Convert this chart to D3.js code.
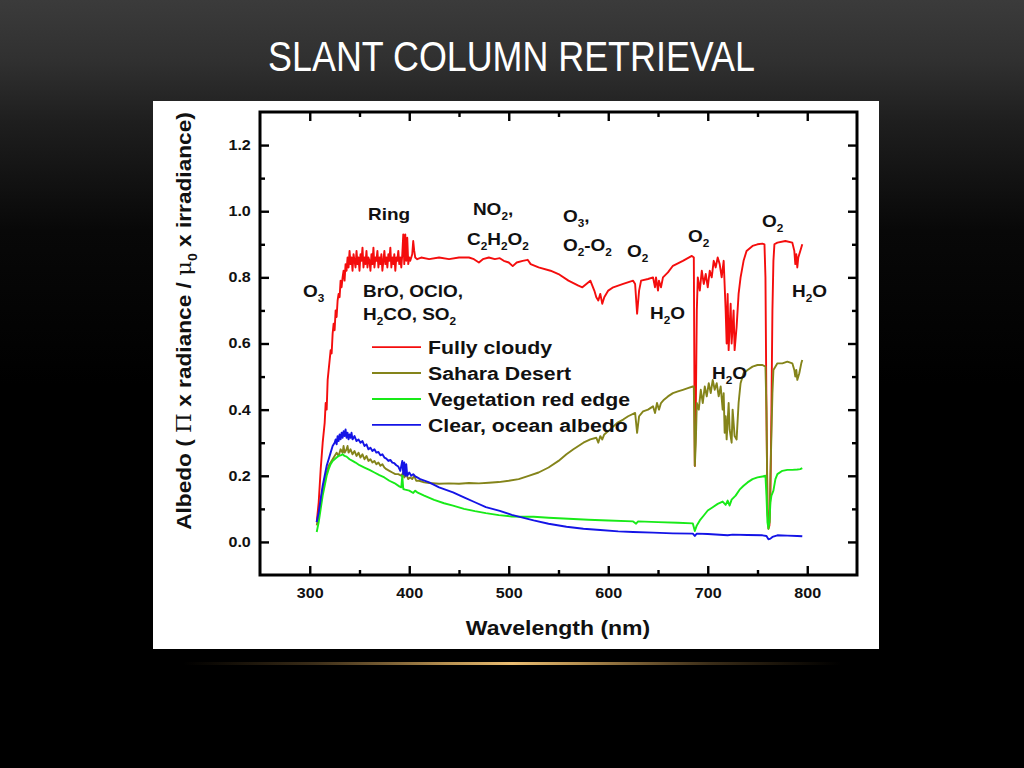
<!DOCTYPE html>
<html><head><meta charset="utf-8">
<script src="https://cdn.jsdelivr.net/npm/d3@7"></script>
<style>html,body{margin:0;padding:0;background:#000;overflow:hidden}</style>
</head><body>
<svg id="c" width="1024" height="768"></svg>
<script>
// ---------------- data ----------------
const slideTitle = "SLANT COLUMN RETRIEVAL";
const xTitle = "Wavelength (nm)";
const seriesNames = ["Fully cloudy", "Sahara Desert", "Vegetation red edge", "Clear, ocean albedo"];
const seriesColors = ["#f40d0d", "#84841a", "#18ea18", "#1414e6"];
const xMajorTicks = [300, 400, 500, 600, 700, 800];
const xMinorTicks = [350, 450, 550, 650, 750];
const yMajorTicks = [0, 0.2, 0.4, 0.6, 0.8, 1.0, 1.2];
const yMinorTicks = [0.1, 0.3, 0.5, 0.7, 0.9, 1.1];

// [wavelength nm, albedo]
const fullyCloudy = [[307,0.06],[309,0.12],[311,0.22],[313,0.30],[315,0.36],[316,0.42],[317,0.40],[318,0.49],[319,0.52],[320,0.55],[321,0.58],[322,0.57],[323,0.63],[324,0.66],[325,0.64],[326,0.70],[327,0.68],[328,0.73],[329,0.75],[330,0.74],[331,0.79],[332,0.77],[333,0.80],[334,0.82],[335,0.79],[336,0.84],[337,0.82],[338,0.86],[339,0.83],[340,0.88],[341,0.84],[342,0.86],[343,0.82],[344,0.87],[345,0.85],[346,0.83],[347,0.88],[348,0.84],[349,0.86],[350,0.82],[351,0.87],[352,0.85],[353,0.89],[354,0.83],[355,0.86],[356,0.84],[357,0.88],[358,0.83],[359,0.86],[360,0.85],[361,0.82],[362,0.87],[363,0.84],[364,0.89],[365,0.83],[366,0.86],[367,0.85],[368,0.88],[369,0.83],[370,0.86],[371,0.84],[372,0.87],[373,0.82],[374,0.85],[375,0.88],[376,0.84],[377,0.86],[378,0.83],[379,0.87],[380,0.85],[381,0.89],[382,0.83],[383,0.86],[384,0.84],[385,0.87],[386,0.82],[387,0.86],[388,0.85],[389,0.88],[390,0.84],[391,0.86],[392,0.83],[393,0.87],[394,0.93],[395,0.84],[396,0.93],[397,0.85],[398,0.92],[399,0.84],[400,0.86],[401,0.85],[402,0.86],[403,0.87],[404,0.91],[405,0.88],[406,0.86],[408,0.855],[412,0.86],[420,0.855],[430,0.86],[440,0.855],[450,0.86],[460,0.86],[465,0.855],[470,0.845],[474,0.855],[480,0.86],[486,0.855],[491,0.858],[495,0.85],[500,0.845],[504,0.834],[508,0.845],[514,0.85],[519,0.853],[522,0.84],[530,0.83],[542,0.82],[550,0.81],[560,0.79],[570,0.775],[574,0.77],[578,0.78],[582,0.79],[586,0.76],[588,0.74],[590,0.73],[592,0.75],[594,0.72],[596,0.74],[600,0.76],[605,0.77],[615,0.78],[625,0.79],[627,0.78],[629,0.69],[631,0.76],[633,0.79],[640,0.795],[645,0.80],[647,0.77],[648,0.80],[650,0.76],[651,0.79],[653,0.77],[655,0.80],[660,0.815],[665,0.835],[675,0.85],[684,0.865],[686,0.86],[687,0.23],[688,0.40],[689,0.70],[690,0.80],[692,0.76],[694,0.82],[696,0.78],[698,0.81],[700,0.77],[702,0.82],[704,0.80],[706,0.85],[708,0.83],[710,0.86],[712,0.84],[714,0.80],[716,0.85],[718,0.70],[719,0.60],[720,0.75],[721,0.58],[723,0.72],[724,0.60],[726,0.70],[727,0.58],[729,0.65],[731,0.75],[733,0.80],[736,0.85],[739,0.88],[745,0.895],[750,0.90],[755,0.902],[757,0.90],[758,0.80],[759,0.40],[760,0.10],[761,0.04],[762,0.05],[763,0.15],[764,0.40],[765,0.70],[766,0.85],[767,0.90],[770,0.905],[778,0.91],[785,0.905],[787,0.88],[788,0.84],[789,0.87],[790,0.83],[791,0.86],[793,0.88],[795,0.90]];

const saharaDesert = [[307,0.05],[309,0.08],[311,0.12],[313,0.16],[315,0.19],[317,0.21],[319,0.23],[321,0.24],[323,0.25],[325,0.26],[327,0.27],[329,0.26],[331,0.28],[333,0.27],[334,0.29],[335,0.27],[337,0.28],[338,0.29],[339,0.27],[341,0.28],[343,0.265],[345,0.275],[347,0.26],[349,0.27],[351,0.255],[353,0.265],[355,0.25],[357,0.26],[359,0.245],[361,0.25],[363,0.24],[365,0.245],[367,0.235],[369,0.24],[371,0.23],[373,0.235],[375,0.225],[377,0.22],[380,0.215],[383,0.21],[386,0.205],[389,0.205],[392,0.20],[394,0.21],[395,0.195],[397,0.205],[399,0.19],[401,0.195],[403,0.19],[405,0.20],[407,0.185],[410,0.185],[415,0.18],[420,0.178],[430,0.176],[440,0.177],[450,0.176],[460,0.178],[470,0.177],[480,0.179],[490,0.181],[500,0.185],[510,0.19],[520,0.20],[530,0.21],[540,0.225],[550,0.245],[558,0.265],[565,0.28],[575,0.30],[582,0.31],[588,0.315],[590,0.30],[592,0.32],[594,0.31],[596,0.325],[600,0.335],[609,0.36],[615,0.37],[620,0.38],[627,0.39],[629,0.33],[631,0.38],[635,0.395],[640,0.40],[645,0.41],[647,0.39],[649,0.42],[651,0.40],[653,0.42],[656,0.43],[660,0.44],[665,0.45],[670,0.455],[675,0.46],[680,0.465],[685,0.47],[686,0.47],[687,0.23],[688,0.30],[689,0.42],[691,0.40],[693,0.46],[695,0.42],[697,0.47],[699,0.44],[701,0.48],[703,0.45],[705,0.49],[707,0.46],[709,0.48],[711,0.44],[713,0.47],[715,0.40],[716,0.45],[717,0.33],[718,0.38],[719,0.31],[721,0.42],[722,0.34],[724,0.30],[725,0.40],[727,0.32],[729,0.31],[731,0.42],[733,0.48],[736,0.51],[740,0.52],[745,0.53],[750,0.535],[755,0.535],[758,0.53],[759,0.40],[760,0.10],[761,0.05],[762,0.06],[763,0.20],[765,0.45],[766,0.52],[770,0.54],[775,0.54],[780,0.545],[785,0.54],[787,0.52],[788,0.50],[789,0.52],[790,0.49],[792,0.51],[794,0.54],[795,0.55]];

const vegetationRedEdge = [[307,0.03],[309,0.06],[311,0.10],[313,0.14],[315,0.17],[317,0.20],[319,0.22],[321,0.235],[323,0.245],[325,0.25],[327,0.255],[329,0.26],[331,0.262],[333,0.265],[335,0.26],[337,0.258],[340,0.25],[343,0.245],[346,0.24],[350,0.232],[355,0.225],[360,0.218],[365,0.21],[370,0.202],[375,0.195],[380,0.185],[385,0.178],[390,0.168],[392,0.165],[393,0.20],[394,0.16],[396,0.158],[400,0.155],[404,0.148],[406,0.155],[408,0.15],[415,0.14],[425,0.127],[435,0.117],[444,0.11],[455,0.10],[466,0.093],[477,0.087],[490,0.081],[503,0.077],[515,0.076],[525,0.076],[540,0.073],[560,0.07],[580,0.067],[600,0.065],[625,0.062],[628,0.055],[630,0.062],[650,0.06],[670,0.058],[685,0.056],[687,0.033],[689,0.05],[692,0.065],[696,0.08],[700,0.095],[705,0.105],[710,0.115],[715,0.122],[718,0.112],[720,0.125],[722,0.11],[724,0.128],[728,0.14],[732,0.158],[736,0.17],[740,0.18],[745,0.19],[750,0.195],[755,0.198],[758,0.20],[759,0.14],[760,0.06],[761,0.04],[762,0.06],[763,0.12],[764,0.14],[766,0.155],[768,0.19],[770,0.205],[775,0.215],[780,0.218],[785,0.218],[790,0.219],[793,0.22],[795,0.223]];

const clearOcean = [[307,0.06],[309,0.09],[311,0.13],[313,0.17],[315,0.20],[317,0.23],[319,0.25],[321,0.27],[323,0.29],[325,0.30],[326,0.31],[327,0.295],[328,0.32],[329,0.305],[330,0.325],[331,0.31],[332,0.33],[333,0.315],[334,0.335],[335,0.32],[336,0.34],[337,0.315],[338,0.33],[339,0.31],[340,0.325],[341,0.315],[342,0.33],[343,0.31],[345,0.32],[347,0.305],[349,0.31],[351,0.30],[353,0.305],[355,0.29],[357,0.295],[359,0.28],[361,0.285],[363,0.275],[365,0.28],[367,0.27],[369,0.272],[371,0.262],[373,0.265],[375,0.255],[377,0.252],[379,0.245],[381,0.248],[383,0.24],[385,0.238],[387,0.232],[389,0.228],[391,0.215],[393,0.245],[394,0.205],[395,0.24],[396,0.20],[397,0.235],[398,0.20],[400,0.21],[402,0.2],[404,0.205],[406,0.198],[408,0.195],[411,0.19],[420,0.18],[430,0.165],[444,0.15],[455,0.135],[466,0.12],[477,0.105],[491,0.094],[503,0.082],[512,0.075],[525,0.065],[540,0.055],[558,0.046],[575,0.04],[592,0.036],[610,0.032],[625,0.03],[645,0.028],[665,0.026],[685,0.025],[687,0.018],[689,0.025],[700,0.024],[720,0.02],[725,0.022],[740,0.021],[755,0.02],[759,0.018],[761,0.008],[763,0.01],[765,0.015],[770,0.02],[780,0.019],[790,0.018],[795,0.017]];

// absorption annotations: anchor [wavelength, albedo], parts [text, isSubscript]
const annotationAnchors = [[358.5,0.973],[464,0.989],[458,0.898],[554.5,0.967],[554.5,0.880],[618.8,0.862],[680.2,0.907],[754.5,0.952],[293.2,0.741],[353.5,0.741],[353.5,0.671],[642,0.674],[784.7,0.741],[704.3,0.493]];
const annotationTexts = [
  [["Ring",0]],
  [["NO",0],["2",1],[",",0]],
  [["C",0],["2",1],["H",0],["2",1],["O",0],["2",1]],
  [["O",0],["3",1],[",",0]],
  [["O",0],["2",1],["-O",0],["2",1]],
  [["O",0],["2",1]],
  [["O",0],["2",1]],
  [["O",0],["2",1]],
  [["O",0],["3",1]],
  [["BrO, OClO,",0]],
  [["H",0],["2",1],["CO, SO",0],["2",1]],
  [["H",0],["2",1],["O",0]],
  [["H",0],["2",1],["O",0]],
  [["H",0],["2",1],["O",0]]
];
// legend rows anchored in data units
const legendRows = [0.589, 0.511, 0.432, 0.354];

// ---------------- drawing ----------------
const FONT = "'Liberation Sans', Arial, sans-serif";
const SX = 1.15;
const svg = d3.select("#c");
const defs = svg.append("defs");

const bg = defs.append("linearGradient").attr("id","bg").attr("x1",0).attr("y1",0).attr("x2",0).attr("y2",1);
[[0,"#3b3b3b"],[0.08,"#303030"],[0.16,"#1e1e1e"],[0.3,"#080808"],[0.5,"#000"],[1,"#000"]]
  .forEach(([o,c]) => bg.append("stop").attr("offset",o).attr("stop-color",c));
svg.append("rect").attr("width",1024).attr("height",768).attr("fill","url(#bg)");

// title
const tt = svg.append("text").attr("x",0).attr("y",0)
  .attr("font-family","'Liberation Sans Narrow','Arial Narrow','Liberation Sans',sans-serif")
  .attr("font-size",43).attr("fill","#fff").attr("text-anchor","middle").text(slideTitle);
const tl = tt.node().getComputedTextLength();
tt.attr("transform",`translate(511.5,71) scale(${487/tl},1)`);

// gold rule
const gold = defs.append("linearGradient").attr("id","gold");
[[0,"rgba(150,110,50,0)"],[0.2,"rgba(170,130,70,0.35)"],[0.4,"rgba(215,170,95,0.85)"],[0.5,"rgba(235,190,115,1)"],[0.6,"rgba(215,170,95,0.85)"],[0.8,"rgba(170,130,70,0.35)"],[1,"rgba(150,110,50,0)"]]
  .forEach(([o,c]) => gold.append("stop").attr("offset",o).attr("stop-color",c));
svg.append("rect").attr("x",183).attr("y",662).attr("width",658).attr("height",3).attr("fill","url(#gold)");

// white panel
svg.append("rect").attr("x",153).attr("y",101).attr("width",726).attr("height",548).attr("fill","#fff");

const L = 260, R = 857, T = 112, B = 575;
const x = d3.scaleLinear().domain([250, 850]).range([L, R]);
const y = d3.scaleLinear().domain([-0.1, 1.3]).range([B, T]);

// series
const line = d3.line().x(d => x(d[0])).y(d => y(d[1]));
const allSeries = [fullyCloudy, saharaDesert, vegetationRedEdge, clearOcean];
const plot = svg.append("g");
allSeries.forEach((s, i) => {
  plot.append("path").datum(s).attr("d", line).attr("fill","none")
    .attr("stroke", seriesColors[i]).attr("stroke-width",1.9).attr("stroke-linejoin","round");
});

// axes
function styleAxis(g){
  g.select(".domain").remove();
  g.selectAll(".tick line").attr("stroke","#000").attr("stroke-width",2.4);
  g.selectAll(".tick text").attr("font-family",FONT).attr("font-weight","bold")
    .attr("font-size",14).attr("fill","#111").attr("transform",`scale(${SX},1)`);
}
const mk = (g, tr) => svg.append("g").attr("transform", tr).call(g).call(styleAxis);
mk(d3.axisBottom(x).tickValues(xMajorTicks).tickSize(-9).tickPadding(13).tickFormat(d3.format("d")), `translate(0,${B})`);
mk(d3.axisBottom(x).tickValues(xMinorTicks).tickSize(-5).tickFormat(""), `translate(0,${B})`);
mk(d3.axisTop(x).tickValues(xMajorTicks).tickSize(-9).tickFormat(""), `translate(0,${T})`);
mk(d3.axisTop(x).tickValues(xMinorTicks).tickSize(-5).tickFormat(""), `translate(0,${T})`);
mk(d3.axisLeft(y).tickValues(yMajorTicks).tickSize(-9).tickPadding(8).tickFormat(d3.format(".1f")), `translate(${L},0)`);
mk(d3.axisLeft(y).tickValues(yMinorTicks).tickSize(-5).tickFormat(""), `translate(${L},0)`);
mk(d3.axisRight(y).tickValues(yMajorTicks).tickSize(-9).tickFormat(""), `translate(${R},0)`);
mk(d3.axisRight(y).tickValues(yMinorTicks).tickSize(-5).tickFormat(""), `translate(${R},0)`);

svg.append("rect").attr("x",L).attr("y",T).attr("width",R-L).attr("height",B-T)
  .attr("fill","none").attr("stroke","#000").attr("stroke-width",3);

// rich text helper
function rich(px, py, parts, size){
  const t = svg.append("text").attr("transform",`translate(${px},${py}) scale(${SX},1)`)
    .attr("font-family",FONT).attr("font-weight","bold").attr("font-size",size).attr("fill","#111");
  let inSub = false;
  parts.forEach(([s, sub]) => {
    const ts = t.append("tspan").text(s);
    if (sub) {
      ts.attr("font-size", size*0.62);
      if (!inSub) ts.attr("dy", size*0.32);
      inSub = true;
    } else {
      if (inSub) ts.attr("dy", -size*0.32);
      inSub = false;
    }
  });
  return t;
}
annotationTexts.forEach((parts, i) => {
  const [wl, v] = annotationAnchors[i];
  rich(x(wl), y(v), parts, 16.5);
});

// legend
seriesNames.forEach((n, i) => {
  const yy = y(legendRows[i]);
  svg.append("line").attr("x1",372).attr("x2",421).attr("y1",yy).attr("y2",yy)
    .attr("stroke",seriesColors[i]).attr("stroke-width",1.9);
  rich(428, yy+7, [[n,0]], 18.5);
});

// axis titles
rich(0, 0, [[xTitle,0]], 20).attr("text-anchor","middle").attr("transform",`translate(558,635) scale(${SX},1)`);

const yt = svg.append("text").attr("font-family",FONT).attr("font-weight","bold").attr("font-size",21)
  .attr("fill","#111").attr("text-anchor","middle");
yt.append("tspan").text("Albedo ( ");
yt.append("tspan").text("\u03A0").attr("font-family","'DejaVu Serif',serif").attr("font-weight","normal");
yt.append("tspan").text(" x radiance / ");
yt.append("tspan").text("\u03BC").attr("font-family","'DejaVu Serif',serif").attr("font-weight","normal");
yt.append("tspan").text("0").attr("font-size",13).attr("dy",6);
yt.append("tspan").text(" x irradiance)").attr("dy",-6);
const yl = yt.node().getComputedTextLength();
yt.attr("transform",`translate(191,321) rotate(-90) scale(${418/yl},1)`);
</script>
</body></html>
